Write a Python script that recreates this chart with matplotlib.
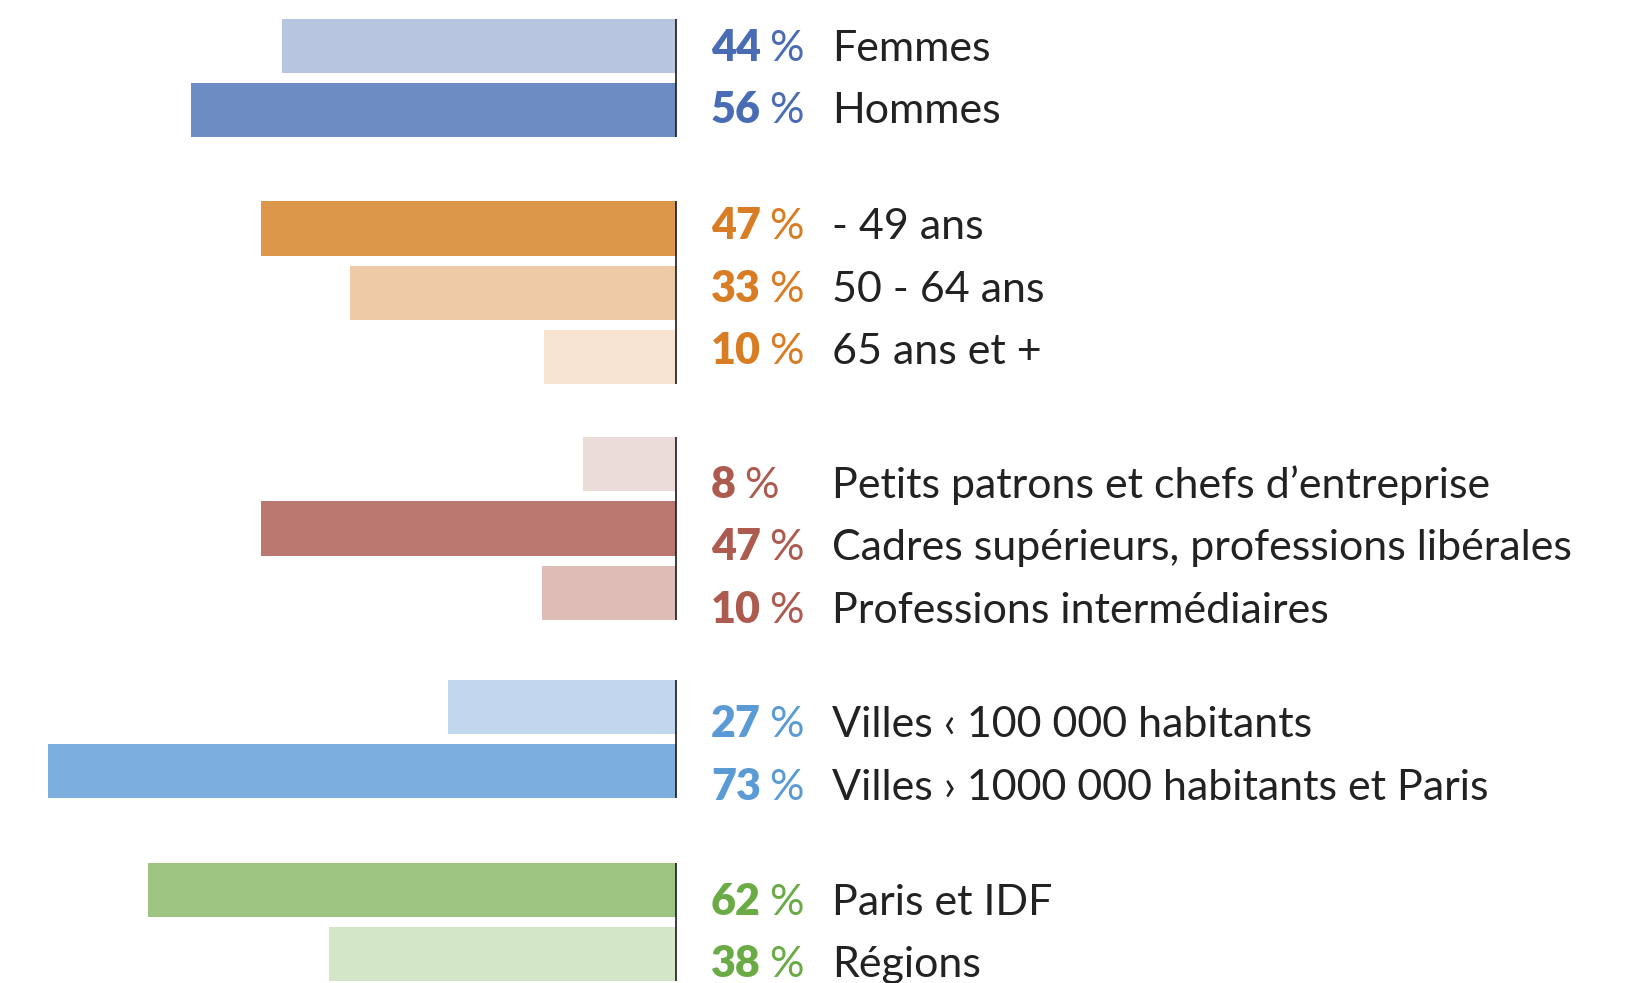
import matplotlib
matplotlib.use("Agg")
import matplotlib.pyplot as plt

# ---- data ----
groups = [0, 0, 1, 1, 1, 2, 2, 2, 3, 3, 4, 4]
categories = [
    "Femmes", "Hommes",
    "- 49 ans", "50 - 64 ans", "65 ans et +",
    "Petits patrons et chefs d\u2019entreprise",
    "Cadres supérieurs, professions libérales",
    "Professions intermédiaires",
    "Villes \u2039 100 000 habitants",
    "Villes \u203a 1000 000 habitants et Paris",
    "Paris et IDF", "Régions",
]
pct_labels = [44, 56, 47, 33, 10, 8, 47, 10, 27, 73, 62, 38]
# drawn bar lengths (same % scale)
bar_lengths = [45.7, 56.3, 48.1, 37.8, 15.3, 10.8, 48.1, 15.5, 26.5, 72.9, 61.2, 40.2]
bar_colors = ["#B7C5E1", "#6D8CC3",
              "#DD974A", "#EECBA6", "#F6E4D0",
              "#EBDCDA", "#BA7870", "#DEBDB7",
              "#C0D7EE", "#7DAFDE",
              "#9DC481", "#D4E6C8"]
group_text_colors = ["#4A6CB4", "#D97D25", "#AD5A4F", "#5B9BD5", "#6AAB46"]

# ---- layout ----
W, H = 1628, 983
px_per_unit = 8.62
zero_px = 676
slot_px = 64.37
group_extra = [0.0, 0.84, 1.50, 2.27, 3.11]
bar_h = 0.84
label_off = [0.23, 0.16, 0.52, 0.47, 0.39]

FONT = ["Lato", "DejaVu Sans"]
FS = 31

fig = plt.figure(figsize=(W / 100, H / 100), dpi=100)
ax = fig.add_axes([0, 0, 1, 1])
ax.set_xlim(-zero_px / px_per_unit, (W - zero_px) / px_per_unit)
top = -45.7 / slot_px
ax.set_ylim(top + H / slot_px, top)
ax.axis("off")

ypos = [i + group_extra[g] for i, g in enumerate(groups)]
ax.barh(ypos, [-v for v in bar_lengths], height=bar_h, color=bar_colors, linewidth=0)

# zero line per group
for g in sorted(set(groups)):
    ys = [y for y, gg in zip(ypos, groups) if gg == g]
    ax.vlines(0, min(ys) - bar_h / 2, max(ys) + bar_h / 2, color="#1a1a1a", lw=1.2)

pct_x = (711 - zero_px) / px_per_unit
lab_x = (832 - zero_px) / px_per_unit
row_in_group = {}
for i, (y, g) in enumerate(zip(ypos, groups)):
    r = row_in_group.get(g, 0)
    row_in_group[g] = r + 1
    yb = y + label_off[g] - 0.025 * r
    col = group_text_colors[g]
    t = ax.text(pct_x, yb, str(pct_labels[i]), family=FONT, fontsize=FS,
                fontweight="heavy", color=col, va="baseline", ha="left")
    ax.annotate("%", xy=(1, 0), xycoords=t, xytext=(6, 0), textcoords="offset points",
                family=FONT, fontsize=FS, color=col, va="bottom", ha="left")
    ax.text(lab_x, yb, categories[i], family=FONT, fontsize=FS, color="#222222",
            va="baseline", ha="left")

fig.savefig("out.png", dpi=100)
